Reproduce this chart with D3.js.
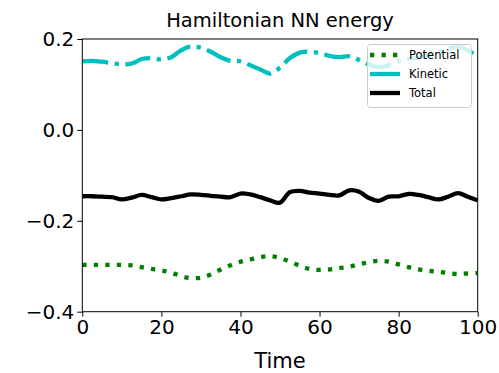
<!DOCTYPE html>
<html><head><meta charset="utf-8">
<script src="https://cdn.jsdelivr.net/npm/d3@7"></script>
<style>body{margin:0;background:#fff;} svg{display:block;font-family:"DejaVu Sans",sans-serif;}</style>
</head><body><svg id="c" width="499" height="373"></svg>
<script>
const time = d3.range(0, 100.01, 2.5);
const potential = [-0.297,-0.297,-0.297,-0.297,-0.297,-0.298,-0.302,-0.306,-0.309,-0.314,-0.322,-0.326,-0.325,-0.318,-0.307,-0.298,-0.290,-0.285,-0.280,-0.278,-0.282,-0.290,-0.299,-0.306,-0.308,-0.307,-0.304,-0.301,-0.296,-0.291,-0.288,-0.290,-0.296,-0.302,-0.307,-0.310,-0.312,-0.315,-0.317,-0.316,-0.315];
const kinetic = [0.151,0.152,0.150,0.147,0.144,0.146,0.156,0.158,0.155,0.160,0.175,0.184,0.181,0.172,0.160,0.152,0.151,0.142,0.133,0.124,0.137,0.158,0.170,0.172,0.169,0.163,0.160,0.162,0.154,0.144,0.138,0.142,0.151,0.156,0.159,0.164,0.171,0.178,0.183,0.175,0.161];
const total = [-0.146,-0.146,-0.147,-0.148,-0.153,-0.149,-0.143,-0.148,-0.153,-0.150,-0.146,-0.142,-0.143,-0.145,-0.147,-0.148,-0.140,-0.142,-0.148,-0.155,-0.160,-0.137,-0.134,-0.138,-0.140,-0.143,-0.144,-0.133,-0.136,-0.150,-0.156,-0.147,-0.146,-0.141,-0.143,-0.148,-0.153,-0.147,-0.139,-0.147,-0.155];
const xTicks = [0,20,40,60,80,100];
const yTicks = [-0.4,-0.2,0.0,0.2];
const seriesNames = ["Potential","Kinetic","Total"];
const title = "Hamiltonian NN energy";
const xLabel = "Time";

const svg = d3.select("#c");
const L = 82.3, R = 477.7, T = 39, B = 311.7;
const x = d3.scaleLinear().domain([0,100]).range([L,R]);
const y = d3.scaleLinear().domain([-0.4,0.2]).range([B,T]);

const styles = {
  Potential: {color:"#007f00", dash:"4.3,7.2", data:potential},
  Kinetic: {color:"#00bfbf", dash:"26,6.5,4.3,6.5", data:kinetic},
  Total: {color:"#000000", dash:null, data:total}
};

const gPlot = svg.append("g");
svg.append("defs").append("clipPath").attr("id","clip").append("rect")
  .attr("x",L).attr("y",T).attr("width",R-L).attr("height",B-T);
const line = d3.line().curve(d3.curveCatmullRom.alpha(0.5));
seriesNames.forEach(n => {
  const s = styles[n];
  gPlot.append("path")
    .attr("clip-path","url(#clip)")
    .attr("d", line(time.map((t,i)=>[x(t), y(s.data[i])])))
    .attr("fill","none").attr("stroke",s.color).attr("stroke-width",4.3)
    .attr("stroke-dasharray", s.dash).attr("stroke-linejoin","round");
});

// axes
const xAxis = d3.axisBottom(x).tickValues(xTicks).tickSize(5).tickPadding(3).tickFormat(d3.format("d"));
const yAxis = d3.axisLeft(y).tickValues(yTicks).tickSize(5).tickPadding(3)
  .tickFormat(d => d3.format(".1f")(d).replace("-","\u2212"));
const gx = svg.append("g").attr("transform",`translate(0,${B})`).call(xAxis);
const gy = svg.append("g").attr("transform",`translate(${L},0)`).call(yAxis);
[gx,gy].forEach(g => {
  g.select(".domain").remove();
  g.selectAll("text").attr("font-size",20).attr("fill","#000").attr("font-family","DejaVu Sans");
  g.selectAll("line").attr("stroke","#000");
});
svg.append("rect").attr("x",L).attr("y",T).attr("width",R-L).attr("height",B-T)
  .attr("fill","none").attr("stroke","#000").attr("stroke-width",1);

svg.append("text").attr("x",(L+R)/2).attr("y",27).attr("text-anchor","middle")
  .attr("font-size",19.5).text(title);
svg.append("text").attr("x",(L+R)/2).attr("y",368).attr("text-anchor","middle")
  .attr("font-size",21).text(xLabel);

// legend
const lg = svg.append("g");
lg.append("rect").attr("x",367.5).attr("y",44.5).attr("width",104).attr("height",63).attr("rx",3)
  .attr("fill","#fff").attr("fill-opacity",0.8).attr("stroke","#ccc").attr("stroke-width",1);
seriesNames.forEach((n,i) => {
  const s = styles[n];
  const yy = 55 + i*19;
  lg.append("line").attr("x1",370).attr("x2",400).attr("y1",yy).attr("y2",yy)
    .attr("stroke",s.color).attr("stroke-width",4.3).attr("stroke-dasharray", n==="Potential"? s.dash : null);
  lg.append("text").attr("x",409).attr("y",yy+4).attr("font-size",11.5).text(n);
});
</script></body></html>
